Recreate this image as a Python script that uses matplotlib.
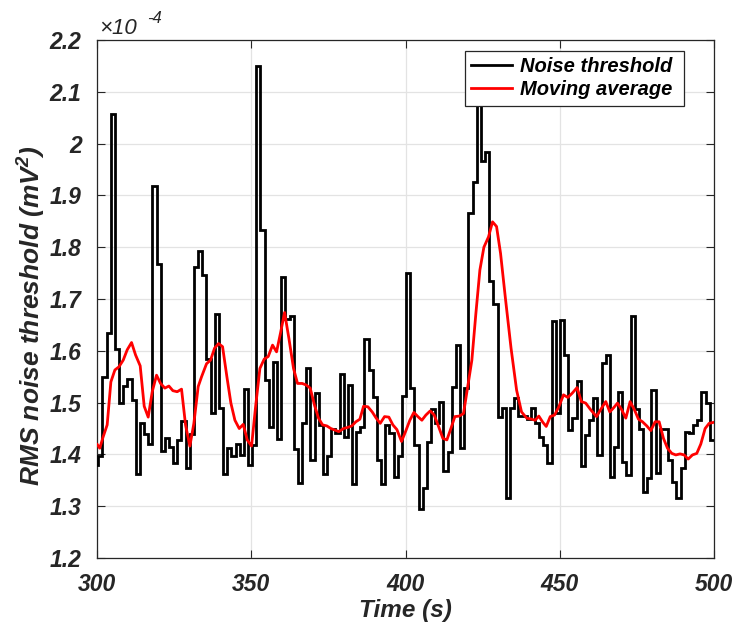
import numpy as np
import matplotlib.pyplot as plt
from matplotlib.ticker import FuncFormatter

# RMS noise threshold per window (x 1e-4 mV^2)
noise = [
    1.380, 1.396, 1.549, 1.634, 2.058, 1.603, 1.500, 1.533, 1.546, 1.506,
    1.362, 1.461, 1.439, 1.421, 1.919, 1.767, 1.407, 1.432, 1.414, 1.383,
    1.427, 1.464, 1.374, 1.440, 1.762, 1.793, 1.746, 1.584, 1.479, 1.672,
    1.490, 1.362, 1.413, 1.396, 1.421, 1.399, 1.526, 1.380, 1.418, 2.149,
    1.833, 1.544, 1.452, 1.579, 1.429, 1.742, 1.661, 1.668, 1.410, 1.345,
    1.461, 1.566, 1.390, 1.518, 1.457, 1.362, 1.397, 1.450, 1.442, 1.555,
    1.433, 1.534, 1.342, 1.444, 1.452, 1.622, 1.563, 1.510, 1.389, 1.342,
    1.457, 1.442, 1.357, 1.396, 1.513, 1.751, 1.529, 1.419, 1.295, 1.336,
    1.423, 1.487, 1.461, 1.502, 1.368, 1.404, 1.531, 1.611, 1.412, 1.529,
    1.867, 1.925, 2.100, 1.967, 1.984, 1.735, 1.690, 1.473, 1.490, 1.315,
    1.490, 1.508, 1.474, 1.474, 1.468, 1.490, 1.461, 1.434, 1.418, 1.383,
    1.658, 1.480, 1.659, 1.591, 1.447, 1.470, 1.542, 1.378, 1.437, 1.466,
    1.509, 1.399, 1.577, 1.591, 1.357, 1.415, 1.521, 1.386, 1.360, 1.667,
    1.488, 1.450, 1.328, 1.354, 1.524, 1.365, 1.450, 1.450, 1.389, 1.347,
    1.315, 1.373, 1.444, 1.441, 1.457, 1.466, 1.521, 1.499, 1.428,
]
t_first = 299.07   # start of first window (s)
t_step = 1.348     # window length (s)

# moving average curve
ma_t = [
    300.1, 300.9, 302.0, 303.3, 304.5, 305.8, 307.1, 308.5, 309.8, 311.2,
    312.5, 314.0, 315.3, 316.6, 317.9, 319.3, 320.6, 322.0, 323.3, 324.6,
    326.0, 327.4, 328.7, 330.1, 331.4, 332.8, 333.9, 335.5, 336.8, 338.1,
    339.4, 340.7, 342.1, 343.4, 344.7, 346.1, 347.4, 348.7, 350.1, 351.4,
    352.8, 354.2, 355.5, 356.9, 358.2, 359.5, 360.8, 362.2, 363.7, 365.0,
    366.5, 367.8, 369.1, 370.5, 371.8, 373.1, 374.5, 375.8, 377.1, 378.4,
    379.9, 381.2, 382.6, 383.9, 385.2, 386.4, 387.8, 389.2, 390.5, 391.8,
    393.2, 394.6, 395.9, 397.2, 398.7, 400.0, 401.4, 402.7, 404.0, 405.3,
    406.6, 408.0, 409.3, 410.7, 412.1, 413.4, 414.7, 416.0, 417.4, 418.8,
    420.1, 421.5, 422.8, 424.1, 425.4, 426.9, 428.2, 429.5, 430.8, 432.4,
    434.2, 436.0, 437.6, 439.3, 440.9, 442.0, 443.2, 444.5, 445.6, 446.9,
    448.3, 449.7, 451.2, 452.6, 454.0, 455.6, 457.0, 458.4, 459.9, 461.9,
    463.5, 464.9, 466.2, 467.3, 468.7, 470.0, 471.4, 472.8, 474.2, 475.5,
    476.8, 478.2, 479.5, 480.9, 482.2, 483.6, 484.9, 486.3, 487.6, 489.0,
    490.3, 491.6, 493.0, 494.4, 495.7, 497.1, 498.4, 500.0,
]
ma_v = [
    1.419, 1.412, 1.434, 1.457, 1.540, 1.563, 1.569, 1.582, 1.602, 1.616,
    1.592, 1.571, 1.493, 1.472, 1.521, 1.553, 1.537, 1.528, 1.532, 1.523,
    1.521, 1.526, 1.457, 1.416, 1.460, 1.531, 1.550, 1.575, 1.582, 1.605,
    1.614, 1.608, 1.550, 1.499, 1.466, 1.450, 1.458, 1.428, 1.416, 1.492,
    1.566, 1.584, 1.589, 1.611, 1.598, 1.635, 1.674, 1.624, 1.566, 1.537,
    1.537, 1.534, 1.528, 1.495, 1.470, 1.457, 1.455, 1.450, 1.447, 1.444,
    1.450, 1.452, 1.455, 1.463, 1.468, 1.493, 1.492, 1.482, 1.470, 1.460,
    1.473, 1.472, 1.457, 1.448, 1.425, 1.444, 1.466, 1.481, 1.473, 1.466,
    1.476, 1.484, 1.476, 1.454, 1.431, 1.428, 1.450, 1.473, 1.474, 1.479,
    1.528, 1.582, 1.672, 1.756, 1.800, 1.820, 1.849, 1.840, 1.788, 1.700,
    1.605, 1.524, 1.482, 1.470, 1.468, 1.466, 1.474, 1.462, 1.454, 1.473,
    1.476, 1.492, 1.515, 1.510, 1.518, 1.529, 1.502, 1.499, 1.487, 1.473,
    1.489, 1.502, 1.482, 1.489, 1.499, 1.487, 1.470, 1.502, 1.486, 1.468,
    1.463, 1.455, 1.446, 1.463, 1.463, 1.431, 1.412, 1.402, 1.399, 1.401,
    1.399, 1.391, 1.399, 1.402, 1.420, 1.450, 1.460, 1.462,
]

x_ticks = [300, 350, 400, 450, 500]
y_ticks = [1.2, 1.3, 1.4, 1.5, 1.6, 1.7, 1.8, 1.9, 2.0, 2.1, 2.2]

plt.rcParams['font.family'] = ['Liberation Sans', 'DejaVu Sans']
plt.rcParams['mathtext.fontset'] = 'custom'
plt.rcParams['mathtext.rm'] = 'Liberation Sans:bold:italic'
plt.rcParams['mathtext.it'] = 'Liberation Sans:bold:italic'
plt.rcParams['mathtext.bf'] = 'Liberation Sans:bold:italic'

DARK = '#262626'


def main():
    fig = plt.figure(figsize=(7.32, 6.26), dpi=100)
    ax = fig.add_axes([0.1325, 0.1086, 0.843, 0.8275])

    edges = t_first + t_step * np.arange(len(noise) + 1)
    ax.stairs(noise, edges, baseline=None, color='black', linewidth=2.0,
              label='Noise threshold ', zorder=3)
    ax.plot(ma_t, ma_v, color='red', linewidth=2.0, label='Moving average ', zorder=4)

    ax.set_xlim(300, 500)
    ax.set_ylim(1.2, 2.2)
    ax.set_xticks(x_ticks)
    ax.set_yticks(y_ticks)
    ax.yaxis.set_major_formatter(FuncFormatter(lambda v, p: f"{v:g}"))

    for lab in ax.get_xticklabels() + ax.get_yticklabels():
        lab.set_fontweight('bold')
        lab.set_fontstyle('italic')
        lab.set_fontsize(16.5)
        lab.set_color(DARK)

    ax.tick_params(direction='in', length=6, width=0.8, top=True, right=True,
                   colors=DARK)
    ax.tick_params(axis='x', pad=11)
    ax.tick_params(axis='y', pad=11)
    ax.grid(True, color='#e3e3e3', linewidth=0.9, zorder=0)
    ax.set_axisbelow(True)
    for sp in ax.spines.values():
        sp.set_color(DARK)
        sp.set_linewidth(0.9)

    ax.set_xlabel('Time (s)', fontsize=17.5, fontweight='bold', fontstyle='italic',
                  color=DARK, labelpad=2)
    ax.set_ylabel('RMS noise threshold (mV$^{2}$)', fontsize=19, fontweight='bold',
                  fontstyle='italic', color=DARK)
    ax.yaxis.set_label_coords(-0.08, 0.467)

    # exponent multiplier at top-left
    fig.text(99 / 732, 1 - 34 / 626, '×10', fontsize=16, fontstyle='italic',
             color=DARK, va='baseline', ha='left')
    fig.text(147 / 732, 1 - 23 / 626, '-4', fontsize=12, fontstyle='italic',
             color=DARK, va='baseline', ha='left')

    leg = ax.legend(loc='upper right', bbox_to_anchor=(0.951, 0.978),
                    borderaxespad=0, fancybox=False, framealpha=1,
                    edgecolor=DARK, handlelength=2.0, handletextpad=0.4,
                    borderpad=0.3, labelspacing=0.2,
                    prop=dict(family='Liberation Sans', weight='bold',
                              style='italic', size=14.5))
    leg.get_frame().set_linewidth(0.9)
    leg.set_zorder(10)

    fig.savefig('out.png', dpi=100)


if __name__ == "__main__":
    main()
